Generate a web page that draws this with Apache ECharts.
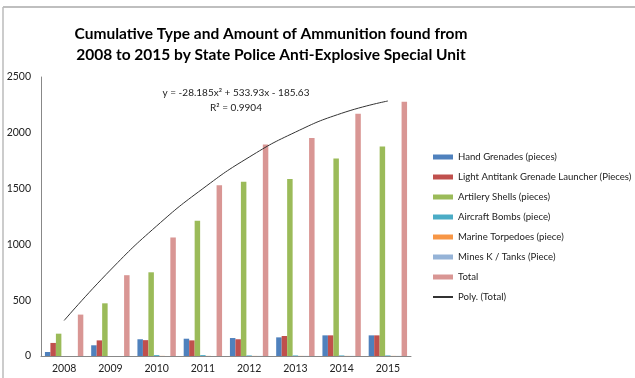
<!DOCTYPE html>
<html><head><meta charset="utf-8">
<script src="https://cdn.jsdelivr.net/npm/echarts@6/dist/echarts.min.js"></script>
<style>html,body{margin:0;padding:0;background:#fff}#c{width:635px;height:378px}</style>
</head><body><div id="c"></div>
<script>
var years = ['2008','2009','2010','2011','2012','2013','2014','2015'];
var handGrenades = [36, 96, 150, 155, 161, 167, 185, 185];
var lightAntitank = [117, 140, 142, 140, 150, 179, 185, 185];
var artilleryShells = [200, 472, 750, 1211, 1561, 1585, 1770, 1878];
var aircraftBombs = [0, 0, 8, 8, 5, 5, 5, 5];
var marineTorpedoes = [0, 0, 1, 1, 1, 1, 1, 1];
var minesTanks = [0, 0, 0, 0, 1, 1, 1, 1];
var totals = [371, 724, 1062, 1531, 1896, 1953, 2171, 2279];
var polyTotal = [318, 770, 1165, 1500, 1782, 2006, 2175, 2285];
var yTicks = [0, 500, 1000, 1500, 2000, 2500];

var FONT = 'Lato';
var chart = echarts.init(document.getElementById('c'));
function bar(name, data, color) {
  return {name: name, type: 'bar', data: data, itemStyle: {color: color}, barGap: '0%', barCategoryGap: '17%', silent: true};
}
chart.setOption({
  animation: false,
  textStyle: {fontFamily: FONT},
  title: {
    text: 'Cumulative Type and Amount of Ammunition found from\n2008 to 2015 by State Police Anti-Explosive Special Unit',
    left: 266, top: 18, textAlign: 'center',
    textStyle: {fontFamily: FONT, fontSize: 15.5, fontWeight: 'bold', color: '#000', lineHeight: 21}
  },
  grid: {left: 41, right: 224, top: 77, bottom: 22, containLabel: false},
  xAxis: {
    type: 'category', data: years,
    axisLine: {lineStyle: {color: '#888'}},
    axisTick: {show: false},
    axisLabel: {fontSize: 10.5, color: '#222', margin: 7, fontFamily: FONT}
  },
  yAxis: {
    type: 'value', min: yTicks[0], max: yTicks[yTicks.length - 1], interval: 500,
    axisLine: {show: true, lineStyle: {color: '#888'}},
    axisTick: {show: false},
    splitLine: {show: false},
    axisLabel: {fontSize: 10.5, color: '#222', margin: 10, fontFamily: FONT, formatter: function (v) { return String(v); }}
  },
  legend: {
    orient: 'vertical', left: 427, top: 146,
    itemWidth: 20, itemHeight: 5, itemGap: 8,
    textStyle: {fontSize: 9.6, color: '#222', lineHeight: 12, fontFamily: FONT},
    data: [
      {name: 'Hand Grenades (pieces)', icon: 'rect'},
      {name: 'Light Antitank Grenade Launcher (Pieces)', icon: 'rect'},
      {name: 'Artilery Shells (pieces)', icon: 'rect'},
      {name: 'Aircraft Bombs (piece)', icon: 'rect'},
      {name: 'Marine Torpedoes (piece)', icon: 'rect'},
      {name: 'Mines K / Tanks (Piece)', icon: 'rect'},
      {name: 'Total', icon: 'rect'},
      {name: 'Poly. (Total)', itemStyle: {opacity: 0}}
    ]
  },
  series: [
    bar('Hand Grenades (pieces)', handGrenades, '#4F81BD'),
    bar('Light Antitank Grenade Launcher (Pieces)', lightAntitank, '#C0504D'),
    bar('Artilery Shells (pieces)', artilleryShells, '#9BBB59'),
    bar('Aircraft Bombs (piece)', aircraftBombs, '#4BACC6'),
    bar('Marine Torpedoes (piece)', marineTorpedoes, '#F79646'),
    bar('Mines K / Tanks (Piece)', minesTanks, '#95B3D7'),
    bar('Total', totals, '#D99694'),
    {name: 'Poly. (Total)', type: 'line', data: polyTotal, smooth: true, symbol: 'none',
     lineStyle: {color: '#333', width: 1}, itemStyle: {color: '#333'}, silent: true, z: 5}
  ],
  graphic: [
    {type: 'line', shape: {x1: 3, y1: 7, x2: 635, y2: 7}, style: {stroke: '#aaa', lineWidth: 1.5}},
    {type: 'line', shape: {x1: 3, y1: 7, x2: 3, y2: 378}, style: {stroke: '#bbb', lineWidth: 1.5}},
    {type: 'text', style: {text: 'y = -28.185x² + 533.93x - 185.63', x: 236, y: 93, align: 'center', verticalAlign: 'middle', font: '10px ' + FONT, fill: '#222'}},
    {type: 'text', style: {text: 'R² = 0.9904', x: 236, y: 108, align: 'center', verticalAlign: 'middle', font: '10px ' + FONT, fill: '#222'}}
  ]
});
</script>
</body></html>
